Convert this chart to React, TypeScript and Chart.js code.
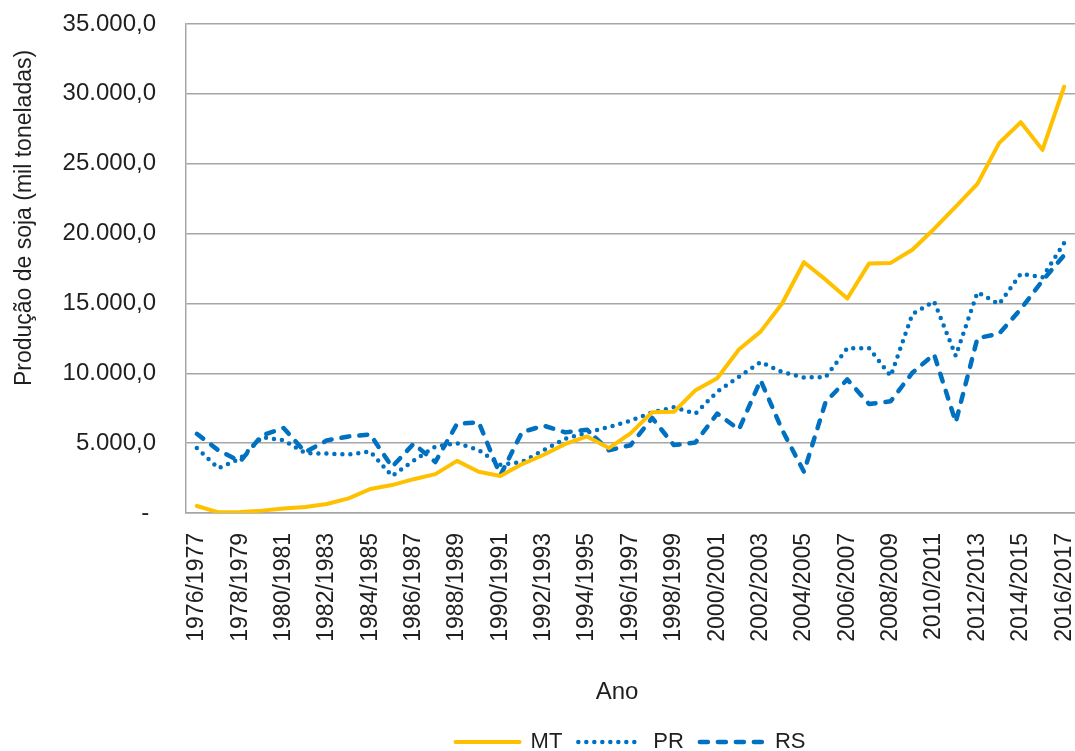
import React, { useEffect, useRef } from 'react';
import { Chart, registerables } from 'chart.js';

Chart.register(...registerables);

const categories = [
  '1976/1977', '1977/1978', '1978/1979', '1979/1980', '1980/1981', '1981/1982',
  '1982/1983', '1983/1984', '1984/1985', '1985/1986', '1986/1987', '1987/1988',
  '1988/1989', '1989/1990', '1990/1991', '1991/1992', '1992/1993', '1993/1994',
  '1994/1995', '1995/1996', '1996/1997', '1997/1998', '1998/1999', '1999/2000',
  '2000/2001', '2001/2002', '2002/2003', '2003/2004', '2004/2005', '2005/2006',
  '2006/2007', '2007/2008', '2008/2009', '2009/2010', '2010/2011', '2011/2012',
  '2012/2013', '2013/2014', '2014/2015', '2015/2016', '2016/2017',
];

const mtValues = [
  500, 50, 80, 170, 330, 430, 640, 1050, 1720, 2000,
  2420, 2780, 3730, 2950, 2650, 3500, 4170, 4950, 5480, 4650,
  5700, 7220, 7240, 8790, 9650, 11700, 12980, 15010, 17950, 16700,
  15350, 17850, 17900, 18840, 20330, 21930, 23560, 26470, 27970, 25990,
  30510,
];

const prValues = [
  4650, 3200, 3900, 5420, 5200, 4290, 4250, 4180, 4400, 2650,
  3750, 4750, 5000, 4500, 3450, 3650, 4500, 5320, 5750, 6150,
  6600, 7200, 7570, 7120, 8680, 9750, 10800, 10080, 9700, 9730,
  11800, 11800, 9800, 14240, 15150, 11250, 15800, 14950, 17120, 16870,
  19320,
];

const rsValues = [
  5670, 4480, 3700, 5550, 6080, 4360, 5200, 5480, 5620, 3300,
  4960, 3650, 6380, 6500, 2700, 5790, 6250, 5770, 5960, 4490,
  4850, 6800, 4860, 5050, 7120, 5980, 9500, 5930, 2950, 7950,
  9560, 7800, 8000, 10040, 11360, 6500, 12510, 12840, 14600, 16630,
  18450,
];

const seriesNames = ['MT', 'PR', 'RS'];
const yMin = 0;
const yMax = 35000;
const yStep = 5000;
const yTitle = 'Produção de soja (mil toneladas)';
const xTitle = 'Ano';

const FONT = "Arial, 'Liberation Sans', sans-serif";
const GRID = '#a6a6a6';
const TEXT = '#1f1f1f';

function formatTick(v: number): string {
  if (v === 0) return '- ';
  const s = Math.round(v).toString().replace(/\B(?=(\d{3})+(?!\d))/g, '.');
  return s + ',0';
}

const titlesPlugin = {
  id: 'customTitles',
  afterDraw(chart: any) {
    const ctx = chart.ctx;
    ctx.save();
    ctx.fillStyle = TEXT;
    ctx.font = `23px ${FONT}`;
    ctx.textAlign = 'center';
    ctx.textBaseline = 'middle';
    ctx.translate(25, 218);
    ctx.rotate(-Math.PI / 2);
    ctx.fillText(yTitle, 0, 0);
    ctx.restore();

    ctx.save();
    ctx.fillStyle = TEXT;
    ctx.font = `24px ${FONT}`;
    ctx.textAlign = 'center';
    ctx.textBaseline = 'middle';
    ctx.fillText(xTitle, 617, 692);
    ctx.restore();
  },
};

export default function App() {
  const canvasRef = useRef<HTMLCanvasElement | null>(null);

  useEffect(() => {
    if (!canvasRef.current) return;
    const chart = new Chart(canvasRef.current, {
      type: 'line',
      data: {
        labels: categories,
        datasets: [
          {
            label: seriesNames[0],
            data: mtValues,
            borderColor: '#FFC000',
            backgroundColor: '#FFC000',
            borderWidth: 4,
            borderJoinStyle: 'round',
            borderCapStyle: 'round',
            pointRadius: 0,
            pointStyle: 'line',
            tension: 0,
          },
          {
            label: seriesNames[1],
            data: prValues,
            borderColor: '#0070C0',
            backgroundColor: '#0070C0',
            borderWidth: 4.5,
            borderDash: [0, 8],
            borderCapStyle: 'round',
            borderJoinStyle: 'round',
            pointRadius: 0,
            pointStyle: 'line',
            tension: 0,
          },
          {
            label: seriesNames[2],
            data: rsValues,
            borderColor: '#0070C0',
            backgroundColor: '#0070C0',
            borderWidth: 4.5,
            borderDash: [8, 10],
            borderCapStyle: 'round',
            borderJoinStyle: 'round',
            pointRadius: 0,
            pointStyle: 'line',
            tension: 0,
          },
        ],
      },
      options: {
        responsive: false,
        animation: false,
        devicePixelRatio: 1,
        layout: { padding: { top: 24, left: 0, right: 0, bottom: 0 } },
        plugins: {
          legend: {
            display: true,
            position: 'bottom',
            fullSize: false,
            labels: {
              usePointStyle: true,
              pointStyleWidth: 64,
              padding: 16,
              color: TEXT,
              font: { family: FONT, size: 22 },
              generateLabels: (c: any) => {
                const items = (Chart as any).defaults.plugins.legend.labels.generateLabels(c);
                items.forEach((it: any, i: number) => {
                  const ds: any = c.data.datasets[i];
                  it.lineDash = ds.borderDash || [];
                  it.lineCap = ds.borderCapStyle;
                  it.lineWidth = ds.borderWidth;
                  it.strokeStyle = ds.borderColor;
                  it.fillStyle = ds.borderColor;
                  it.pointStyle = 'line';
                });
                return items;
              },
            },
          },
          tooltip: { enabled: false },
          title: { display: false },
        },
        scales: {
          x: {
            type: 'category',
            offset: true,
            grid: { display: false, drawTicks: false },
            border: { display: true, color: GRID, width: 1.5 },
            ticks: {
              autoSkip: false,
              minRotation: 90,
              maxRotation: 90,
              padding: 20,
              color: TEXT,
              font: { family: FONT, size: 23 },
              callback: (_v: any, i: number) => (i % 2 === 0 ? categories[i] : ''),
            },
            afterFit: (scale: any) => {
              scale.height = 202;
              scale.paddingRight = 0;
              scale.paddingLeft = 0;
            },
          },
          y: {
            min: yMin,
            max: yMax,
            grid: { color: GRID, lineWidth: 1.5, drawTicks: false },
            border: { display: true, color: GRID, width: 1.5 },
            ticks: {
              stepSize: yStep,
              padding: 30,
              color: TEXT,
              font: { family: FONT, size: 24 },
              callback: (v: any) => formatTick(Number(v)),
            },
            afterFit: (scale: any) => {
              scale.width = 186;
              scale.paddingTop = 0;
              scale.paddingBottom = 0;
            },
          },
        },
      },
      plugins: [titlesPlugin],
    });
    return () => chart.destroy();
  }, []);

  return (
    <div
      style={{
        position: 'absolute',
        left: 0,
        top: 0,
        width: 1075,
        height: 751,
        overflow: 'hidden',
        background: '#ffffff',
      }}
    >
      <canvas ref={canvasRef} width={1075} height={763} style={{ display: 'block' }} />
    </div>
  );
}
